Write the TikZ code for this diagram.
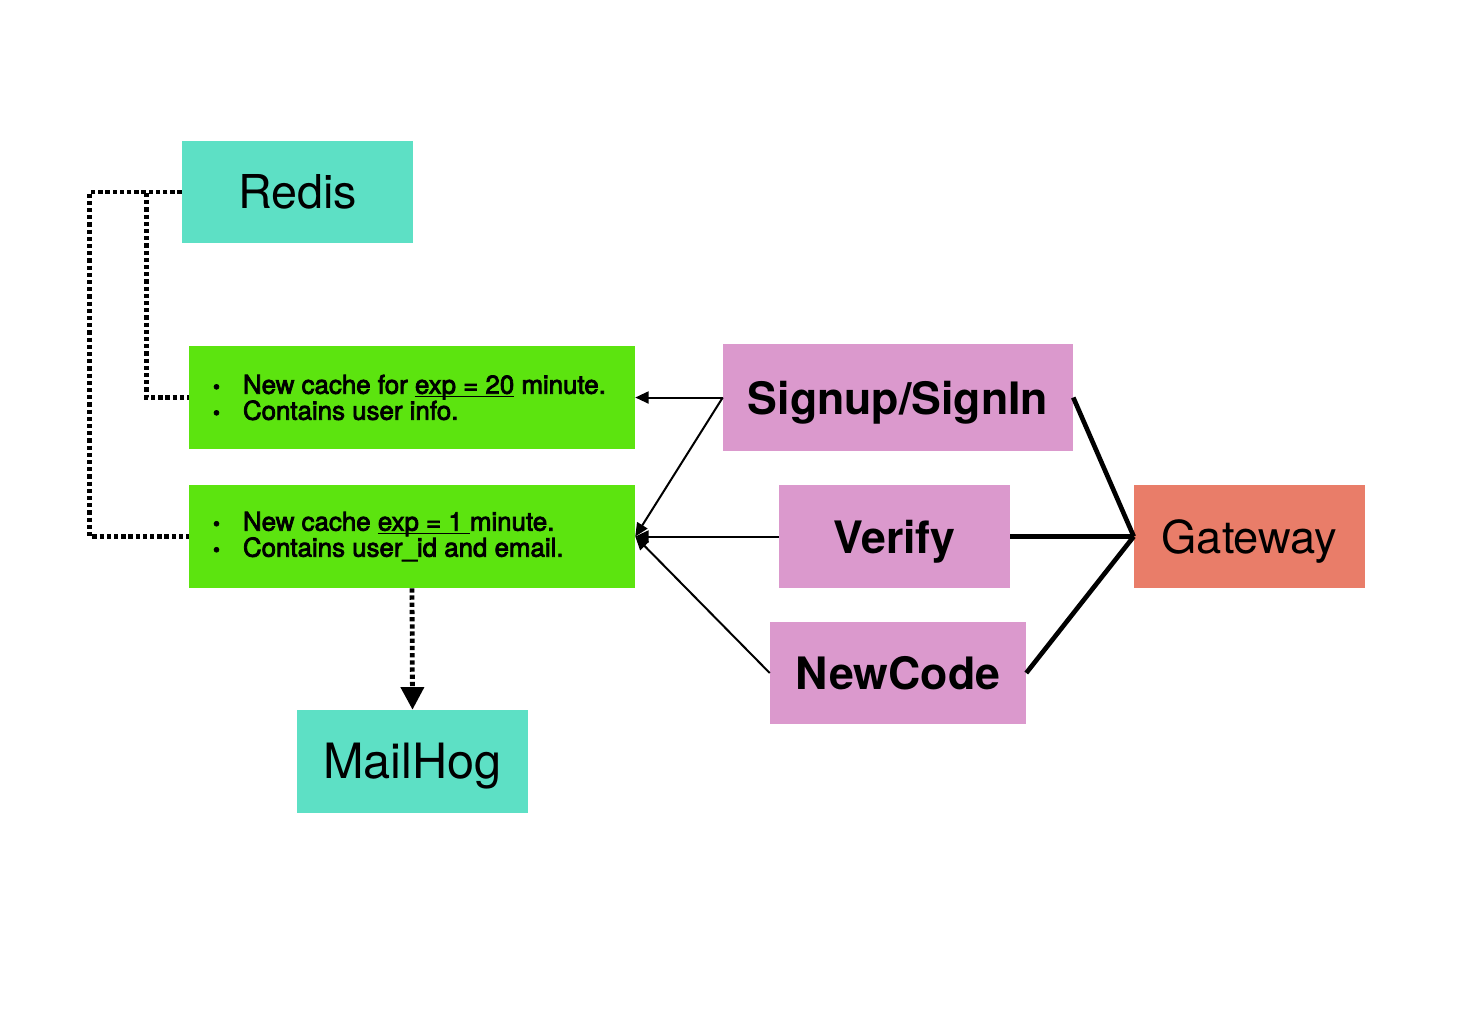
\documentclass[tikz,border=0pt]{standalone}
\usepackage{fontspec}
\setmainfont{TeX Gyre Heros}
\newfontfamily\medfont[FakeBold=3]{TeX Gyre Heros}
\usetikzlibrary{arrows.meta}
\definecolor{cTeal}{RGB}{93,224,197}
\definecolor{cGreen}{RGB}{92,228,15}
\definecolor{cPink}{RGB}{219,153,205}
\definecolor{cGate}{RGB}{233,125,105}
\newcommand\bul{\makebox[22.5pt][l]{\fontsize{15}{15}\selectfont\textbullet}}
\newcommand\ulin[1]{{\setbox0\hbox{#1}\rlap{\rule[-2.6pt]{\wd0}{1.2pt}}\box0}}
\begin{document}
\begin{tikzpicture}[x=0.75pt,y=-0.75pt,
  bigbox/.style={draw=none, inner sep=0pt, minimum width=173.25pt, minimum height=77.25pt, text height=25pt, text depth=0pt},
  tealbox/.style={bigbox, fill=cTeal, font=\fontsize{35}{40}\selectfont},
  pinkbox/.style={bigbox, fill=cPink, font=\bfseries\fontsize{33.5}{40}\selectfont},
  gatebox/.style={bigbox, fill=cGate, font=\fontsize{34}{40}\selectfont},
  greenbox/.style={draw=none, fill=cGreen, inner sep=0pt, minimum width=334.5pt, minimum height=77.25pt},
  greentext/.style={inner sep=0pt, anchor=west, xshift=18pt, yshift=0pt, align=left, font=\medfont\fontsize{19.4}{19.5}\selectfont},
  thinarrow/.style={line width=1.5pt, -{Triangle[length=10pt,width=9pt]}},
  thickline/.style={line width=3.5pt},
  dotline/.style={line width=3.6pt, dash pattern=on 3.2pt off 2.2pt}
]
\path[fill=white] (0,0) rectangle (1467,1011);
\useasboundingbox (0,0) rectangle (1467,1011);

\node[tealbox, minimum height=76.5pt] (redis) at (297.5,192) {Redis};
\node[greenbox] (g1) at (412,397.5) {};
\node[greenbox] (g2) at (412,536.5) {};
\node[greentext] (g1t) at (g1.west) {\bul New cache for \ulin{exp = 20} minute.\\\bul Contains user info.};
\node[greentext] (g2t) at (g2.west) {\bul New cache \ulin{exp = 1\ }minute.\\\bul Contains user\_id and email.};
\node[tealbox, font=\fontsize{36.5}{40}\selectfont] (mail) at (412.5,761.5) {MailHog};
\node[pinkbox, minimum width=262.5pt, minimum height=80.25pt] (sign) at (898,397.5) {Signup/SignIn};
\node[pinkbox] (verify) at (894.5,536.5) {Verify};
\node[pinkbox, minimum width=192pt, minimum height=76.5pt] (newcode) at (898,673) {NewCode};
\node[gatebox] (gate) at (1249.5,536.5) {Gateway};

\draw[thinarrow] (sign.west) -- (g1.east);
\draw[thinarrow] (sign.west) -- (g2.east);
\draw[thinarrow] (verify.west) -- (g2.east);
\draw[thinarrow] (newcode.west) -- (g2.east);

\draw[thickline] (sign.east) -- (gate.west);
\draw[thickline] (verify.east) -- (gate.west);
\draw[thickline] (newcode.east) -- (gate.west);

\draw[dotline] (redis.west) -- ++(-92,0) |- (g2.west);
\draw[dotline] (redis.west) -- ++(-35,0) |- (g1.west);
\draw[dotline, -{Triangle[length=17pt,width=17pt]}] (g2.south) -- (mail.north);
\end{tikzpicture}
\end{document}
